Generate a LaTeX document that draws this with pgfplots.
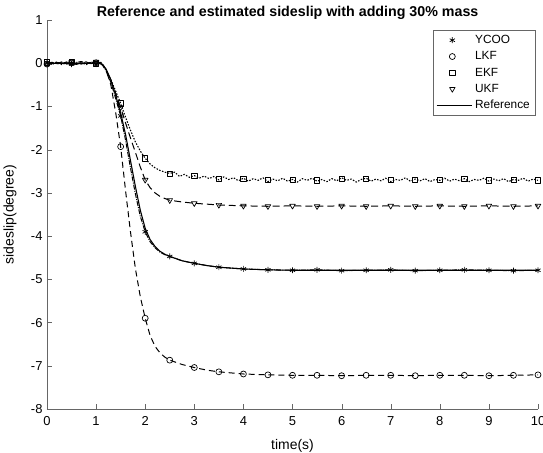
\documentclass[border=0pt]{standalone}
\usepackage{pgfplots}
\pgfplotsset{compat=1.18}
\usepackage{fontspec}
\setmainfont{Liberation Sans}
\pgfplotsset{
  reflegend/.style={legend image code/.code={\draw[##1] (-0.55cm,0cm) -- (0.68cm,0cm);}},
  marklegend/.style={legend image code/.code={\path[draw=none,fill=none] (-0.55cm,-0.1cm) rectangle (0.6cm,0.1cm); \draw[##1] plot coordinates {(0cm,0cm)};}},
}
\begin{document}
\begin{tikzpicture}
\begin{axis}[name=ax, scale only axis, width=491bp, height=389bp,
  xmin=0, xmax=10, ymin=-8, ymax=1,
  xtick={0,1,...,10}, ytick={-8,-7,...,1},
  axis x line*=bottom, axis y line*=left,
  axis line style={black!60, -}, tick style={black!60},
  tick align=inside, major tick length=5bp,
  /pgf/number format/assume math mode=true,
  ticklabel style={font=\fontsize{13}{15}\selectfont},
  xticklabel style={yshift=-4bp},
  yticklabel style={xshift=-1bp},
  title={\bfseries Reference and estimated sideslip with adding 30\% mass},
  title style={font=\fontsize{14.3}{16}\selectfont, at={(axis description cs:0.49,1)}, anchor=base, yshift=-2.5bp},
  xlabel={time(s)}, ylabel={sideslip(degree)},
  label style={font=\fontsize{14}{16}\selectfont},
  xlabel style={at={(axis description cs:0.5,0)}, anchor=base, yshift=-40bp},
  ylabel style={at={(axis description cs:0,0.5)}, anchor=center, yshift=37bp},
  legend style={at={(rel axis cs:0.994,0.974)}, anchor=north east,
    font=\fontsize{11.9}{13}\selectfont, draw=black!60, line width=0.5pt,
    row sep=2.6bp, inner sep=3pt, column sep=1bp},
  legend cell align=left,
  every axis plot/.append style={line join=round},
]
% ---------- lines ----------
% YCOO (dash-dot)
\addplot[black, line width=1pt, dash pattern=on 5pt off 1.2pt on 1pt off 1.2pt, forget plot] coordinates {
(0,0.01)(0.1,-0.03)(0.2,0.02)(0.3,-0.01)(0.4,0.03)(0.5,-0.02)(0.6,0.02)(0.7,0.04)(0.8,-0.01)(0.9,0.02)(1.0,-0.02)(1.1,0.01)
(1.15,-0.08)(1.2,-0.17)(1.3,-0.44)(1.4,-0.82)(1.5,-1.22)(1.6,-1.78)(1.7,-2.42)(1.8,-3.02)(1.9,-3.54)(2.0,-3.9)
(2.1,-4.13)(2.2,-4.27)(2.3,-4.37)(2.4,-4.43)(2.5,-4.47)(2.75,-4.57)(3.0,-4.63)(3.25,-4.68)(3.5,-4.72)(4.0,-4.76)(4.5,-4.78)
(5,-4.79)(5.5,-4.78)(6,-4.8)(6.5,-4.79)(7,-4.78)(7.5,-4.8)(8,-4.79)(8.5,-4.78)(9,-4.79)(9.5,-4.8)(10,-4.79)};
% LKF (dashed)
\addplot[black, line width=1pt, dash pattern=on 6pt off 4pt, forget plot] coordinates {
(0,-0.02)(0.1,0.02)(0.2,-0.01)(0.3,0.03)(0.4,-0.02)(0.5,0.01)(0.6,-0.03)(0.7,0.02)(0.8,0.03)(0.9,-0.02)(1.0,0.01)(1.1,0.02)
(1.15,-0.05)(1.2,-0.15)(1.3,-0.5)(1.4,-1.15)(1.5,-1.93)(1.6,-2.95)(1.7,-3.9)(1.8,-4.75)(1.9,-5.4)(2.0,-5.9)
(2.1,-6.3)(2.2,-6.55)(2.3,-6.7)(2.4,-6.8)(2.5,-6.87)(2.75,-6.97)(3.0,-7.04)(3.25,-7.1)(3.5,-7.14)(4.0,-7.19)(4.5,-7.21)
(5,-7.22)(5.5,-7.22)(6,-7.23)(6.5,-7.22)(7,-7.22)(7.5,-7.23)(8,-7.22)(8.5,-7.22)(9,-7.23)(9.5,-7.22)(10,-7.21)};
% EKF (dotted, noisy)
\addplot[black, line width=1.1pt, dash pattern=on 1.5pt off 1.5pt, forget plot] coordinates {
(0,0.02)(0.1,-0.02)(0.2,0.03)(0.3,-0.03)(0.4,0.01)(0.5,0.03)(0.6,-0.02)(0.7,0.01)(0.8,-0.03)(0.9,0.03)(1.0,-0.01)(1.1,0.02)
(1.15,-0.06)(1.2,-0.14)(1.3,-0.38)(1.4,-0.65)(1.5,-0.93)(1.6,-1.25)(1.7,-1.55)(1.8,-1.82)(1.9,-2.03)(2.0,-2.2)
(2.1,-2.33)(2.2,-2.42)(2.3,-2.48)(2.4,-2.52)(2.5,-2.55)
(2.6,-2.52)(2.7,-2.62)(2.8,-2.57)(2.9,-2.64)(3.0,-2.60)(3.1,-2.66)(3.2,-2.61)(3.3,-2.67)(3.4,-2.62)(3.5,-2.70)
(3.6,-2.63)(3.7,-2.69)(3.8,-2.65)(3.9,-2.72)(4.0,-2.66)(4.1,-2.73)(4.2,-2.67)(4.3,-2.71)(4.4,-2.65)(4.5,-2.74)
(4.6,-2.68)(4.7,-2.72)(4.8,-2.66)(4.9,-2.73)(5.0,-2.69)(5.1,-2.75)(5.2,-2.67)(5.3,-2.71)(5.4,-2.66)(5.5,-2.73)
(5.6,-2.69)(5.7,-2.74)(5.8,-2.67)(5.9,-2.72)(6.0,-2.65)(6.1,-2.71)(6.2,-2.68)(6.3,-2.75)(6.4,-2.69)(6.5,-2.66)
(6.6,-2.73)(6.7,-2.68)(6.8,-2.72)(6.9,-2.66)(7.0,-2.74)(7.1,-2.69)(7.2,-2.71)(7.3,-2.65)(7.4,-2.73)(7.5,-2.68)
(7.6,-2.72)(7.7,-2.67)(7.8,-2.74)(7.9,-2.69)(8.0,-2.71)(8.1,-2.66)(8.2,-2.73)(8.3,-2.68)(8.4,-2.72)(8.5,-2.67)
(8.6,-2.74)(8.7,-2.69)(8.8,-2.71)(8.9,-2.66)(9.0,-2.73)(9.1,-2.68)(9.2,-2.72)(9.3,-2.67)(9.4,-2.74)(9.5,-2.69)
(9.6,-2.71)(9.7,-2.66)(9.8,-2.73)(9.9,-2.68)(10.0,-2.71)};
% UKF (dashed)
\addplot[black, line width=1pt, dash pattern=on 7pt off 4pt, forget plot] coordinates {
(0,-0.01)(0.1,0.02)(0.2,-0.02)(0.3,0.01)(0.4,-0.03)(0.5,0.02)(0.6,0.01)(0.7,-0.02)(0.8,0.02)(0.9,-0.01)(1.0,0.03)(1.1,0.0)
(1.15,-0.06)(1.2,-0.14)(1.3,-0.4)(1.4,-0.7)(1.5,-1.02)(1.6,-1.38)(1.7,-1.73)(1.8,-2.06)(1.9,-2.4)(2.0,-2.7)
(2.1,-2.88)(2.2,-3.0)(2.3,-3.08)(2.4,-3.13)(2.5,-3.17)(2.75,-3.21)(3.0,-3.24)(3.5,-3.28)(4.0,-3.3)(4.5,-3.31)
(5,-3.3)(5.5,-3.31)(6,-3.3)(6.5,-3.31)(7,-3.3)(7.5,-3.31)(8,-3.3)(8.5,-3.31)(9,-3.3)(9.5,-3.31)(10,-3.3)};
% ---------- markers ----------
\addplot[black, only marks, mark=asterisk, mark size=3pt, mark options={line width=0.7pt}, marklegend] coordinates {
(0,0.01)(0.5,-0.02)(1,-0.02)(1.5,-1.22)(2,-3.9)(2.5,-4.47)(3,-4.63)(3.5,-4.72)(4,-4.76)(4.5,-4.78)(5,-4.79)
(5.5,-4.78)(6,-4.8)(6.5,-4.79)(7,-4.78)(7.5,-4.8)(8,-4.79)(8.5,-4.78)(9,-4.79)(9.5,-4.8)(10,-4.79)};
\addlegendentry{YCOO}
\addplot[black, only marks, mark=o, mark size=3pt, mark options={line width=0.7pt}, marklegend] coordinates {
(0,-0.02)(0.5,0.01)(1,0.01)(1.5,-1.93)(2,-5.9)(2.5,-6.87)(3,-7.04)(3.5,-7.14)(4,-7.19)(4.5,-7.21)(5,-7.22)
(5.5,-7.22)(6,-7.23)(6.5,-7.22)(7,-7.22)(7.5,-7.23)(8,-7.22)(8.5,-7.22)(9,-7.23)(9.5,-7.22)(10,-7.21)};
\addlegendentry{LKF}
\addplot[black, only marks, mark=square, mark size=2.6pt, mark options={line width=0.7pt}, marklegend] coordinates {
(0,0.02)(0.5,0.03)(1,-0.01)(1.5,-0.93)(2,-2.2)(2.5,-2.55)(3,-2.6)(3.5,-2.68)(4,-2.67)(4.5,-2.7)(5,-2.69)
(5.5,-2.71)(6,-2.67)(6.5,-2.68)(7,-2.7)(7.5,-2.69)(8,-2.7)(8.5,-2.68)(9,-2.71)(9.5,-2.7)(10,-2.71)};
\addlegendentry{EKF}
\addplot[black, only marks, mark=triangle, mark size=3.2pt, mark options={line width=0.7pt, rotate=180}, marklegend] coordinates {
(0,-0.01)(0.5,0.02)(1,0.03)(1.5,-1.02)(2,-2.7)(2.5,-3.17)(3,-3.24)(3.5,-3.28)(4,-3.3)(4.5,-3.31)(5,-3.3)
(5.5,-3.31)(6,-3.3)(6.5,-3.31)(7,-3.3)(7.5,-3.31)(8,-3.3)(8.5,-3.31)(9,-3.3)(9.5,-3.31)(10,-3.3)};
\addlegendentry{UKF}
% Reference (solid)
\addplot[black, line width=1.1pt, reflegend] coordinates {
(0,0)(1.05,0)(1.1,-0.02)(1.15,-0.06)(1.2,-0.13)(1.3,-0.38)(1.4,-0.75)(1.5,-1.15)(1.6,-1.65)(1.7,-2.25)(1.8,-2.85)
(1.9,-3.4)(2.0,-3.82)(2.1,-4.08)(2.2,-4.24)(2.3,-4.35)(2.4,-4.42)(2.5,-4.47)(2.75,-4.57)(3.0,-4.63)(3.25,-4.68)
(3.5,-4.72)(4.0,-4.76)(4.5,-4.78)(5,-4.79)(10,-4.79)};
\addlegendentry{Reference}
\end{axis}
\pgfresetboundingbox
\path[use as bounding box] ([shift={(-47bp,-44bp)}]ax.south west) rectangle ([shift={(5bp,20bp)}]ax.north east);
\end{tikzpicture}
\end{document}
